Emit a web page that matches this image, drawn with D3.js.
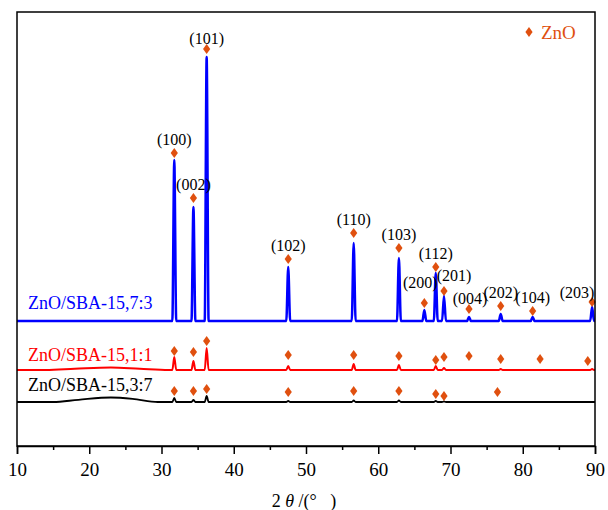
<!DOCTYPE html>
<html>
<head>
<meta charset="utf-8">
<style>
  body { margin: 0; background: #fff; }
  svg { display: block; font-family: "Liberation Serif", "Times New Roman", serif; }
</style>
</head>
<body>
<div id="chart"></div>
<script src="https://cdn.jsdelivr.net/npm/d3@7"></script>
<script>
    // ZnO reflections (2θ, degrees) and their indices
    const peakAngles = [31.77, 34.42, 36.25, 47.54, 56.60, 62.86, 66.38, 67.96, 69.10, 72.56, 76.95, 81.37, 89.60];
    const hklLabels = ["(100)", "(002)", "(101)", "(102)", "(110)", "(103)", "(200)", "(112)", "(201)", "(004)", "(202)", "(104)", "(203)"];

    // peak heights above each trace's baseline (a.u.), same order as peakAngles
    const heights73 = [1610, 1140, 2640, 540, 780, 630, 110, 480, 250, 40, 70, 40, 140];
    const heights11 = [130, 90, 220, 40, 60, 50, 0, 40, 20, 0, 10, 0, 10];
    const heights37 = [40, 20, 60, 10, 15, 15, 0, 10, 5, 0, 0, 0, 0];

    // broad amorphous silica hump (2θ, a.u.)
    const hump11 = [[14, 0], [18, 12], [23, 25], [27, 12], [31, 0]];
    const hump37 = [[15, 0], [18.5, 22], [23, 45], [26, 32], [29.5, 0]];

    // vertical offsets of the stacked traces
    const seriesNames = ["ZnO/SBA-15,7:3", "ZnO/SBA-15,1:1", "ZnO/SBA-15,3:7"];
    const seriesOffsets = [1250, 760, 440];

    // ZnO markers above each trace
    const marks73 = [1680, 1230, 2720, 620, 880, 730, 180, 540, 300, 120, 150, 100, 190];
    const markAngles11 = [31.77, 34.42, 36.25, 47.54, 56.60, 62.86, 67.96, 69.10, 72.56, 76.95, 82.40, 89.00];
    const marks11 = [190, 180, 290, 150, 150, 140, 100, 130, 140, 110, 110, 90];
    const markAngles37 = [31.77, 34.42, 36.25, 47.54, 56.60, 62.86, 67.96, 69.10, 76.50];
    const marks37 = [110, 110, 130, 100, 110, 110, 80, 60, 100];

    const xTicks = [10, 20, 30, 40, 50, 60, 70, 80, 90];
    const xMinorTicks = [15, 25, 35, 45, 55, 65, 75, 85];

    const width = 608, height = 510;
    const margin = { top: 12, right: 13, bottom: 64, left: 17 };
    const colors = ["#0000ff", "#ff0000", "#000000"];
    const strokeW = [2.5, 2, 1.8];
    const markColor = "#e0500f";
    const peakHalfWidth = 0.27;

    // label nudges (px) for the crowded hkl labels
    const labelNudge = {
        "(101)": [0, -11], "(004)": [1, -11], "(200)": [-4, -21],
        "(201)": [10, -16], "(203)": [-15, -10]
    };

    const svg = d3.select("#chart").append("svg")
        .attr("width", width)
        .attr("height", height);

    const x = d3.scaleLinear().domain([10, 90]).range([margin.left, width - margin.right]);
    const y = d3.scaleLinear().domain([0, 4340]).range([height - margin.bottom, margin.top]);

    function buildTrace(heights, hump) {
        let pts = [[10, 0], [90, 0]];
        if (hump) pts = pts.concat(hump);
        peakAngles.forEach((p, i) => {
            const h = heights[i];
            if (!h) return;
            pts.push([p - peakHalfWidth, 0], [p, h], [Math.min(90, p + peakHalfWidth), 0]);
        });
        return pts.sort((a, b) => a[0] - b[0]);
    }

    const traces = [
        buildTrace(heights73, null),
        buildTrace(heights11, hump11),
        buildTrace(heights37, hump37)
    ];

    svg.append("defs").append("clipPath").attr("id", "clip")
        .append("rect")
        .attr("x", margin.left).attr("y", margin.top)
        .attr("width", width - margin.left - margin.right)
        .attr("height", height - margin.top - margin.bottom);

    const line = d3.line().curve(d3.curveMonotoneX);

    svg.append("g").attr("clip-path", "url(#clip)")
        .selectAll("path")
        .data(traces)
        .join("path")
        .attr("fill", "none")
        .attr("stroke", (d, i) => colors[i])
        .attr("stroke-width", (d, i) => strokeW[i])
        .attr("stroke-linejoin", "round")
        .attr("d", (d, i) => line(d.map(p => [x(p[0]), y(p[1] + seriesOffsets[i])])));

    // diamond marker
    const diamond = {
        draw(ctx, size) {
            const hw = 3.6, hh = 5;
            ctx.moveTo(0, -hh);
            ctx.lineTo(hw, 0);
            ctx.lineTo(0, hh);
            ctx.lineTo(-hw, 0);
            ctx.closePath();
        }
    };
    const sym = d3.symbol().type(diamond)();

    const markers = [];
    peakAngles.forEach((p, i) => markers.push({ a: p, v: marks73[i] + seriesOffsets[0], hkl: hklLabels[i] }));
    markAngles11.forEach((p, i) => markers.push({ a: p, v: marks11[i] + seriesOffsets[1] }));
    markAngles37.forEach((p, i) => markers.push({ a: p, v: marks37[i] + seriesOffsets[2] }));

    svg.append("g")
        .selectAll("path")
        .data(markers)
        .join("path")
        .attr("d", sym)
        .attr("fill", markColor)
        .attr("transform", d => `translate(${x(d.a)},${y(d.v)})`);

    // hkl labels
    svg.append("g")
        .selectAll("text")
        .data(markers.filter(d => d.hkl))
        .join("text")
        .attr("x", d => x(d.a) + (labelNudge[d.hkl] ? labelNudge[d.hkl][0] : 0))
        .attr("y", d => y(d.v) + (labelNudge[d.hkl] ? labelNudge[d.hkl][1] : -14))
        .attr("dy", "0.35em")
        .attr("text-anchor", "middle")
        .attr("font-size", 16)
        .attr("fill", "#000")
        .text(d => d.hkl);

    // series names
    const nameY = [303, 355, 385];
    svg.append("g")
        .selectAll("text")
        .data(seriesNames)
        .join("text")
        .attr("x", 28)
        .attr("y", (d, i) => nameY[i])
        .attr("dy", "0.35em")
        .attr("font-size", 18)
        .attr("fill", (d, i) => colors[i])
        .text(d => d);

    // legend
    svg.append("path")
        .attr("d", sym)
        .attr("fill", markColor)
        .attr("transform", "translate(529,32)");
    svg.append("text")
        .attr("x", 541).attr("y", 32).attr("dy", "0.35em")
        .attr("font-size", 19)
        .attr("fill", markColor)
        .text("ZnO");

    // frame
    svg.append("rect")
        .attr("x", margin.left).attr("y", margin.top)
        .attr("width", width - margin.left - margin.right)
        .attr("height", height - margin.top - margin.bottom)
        .attr("fill", "none")
        .attr("stroke", "#000")
        .attr("stroke-width", 1.5);

    // x axis
    const axisY = height - margin.bottom;
    const xAxis = svg.append("g")
        .attr("transform", `translate(0,${axisY})`)
        .call(d3.axisBottom(x).tickValues(xTicks).tickSize(8).tickPadding(9).tickFormat(d3.format("d")));
    xAxis.select(".domain").attr("stroke-width", 1.5);
    xAxis.selectAll(".tick line").attr("stroke-width", 1.5);
    xAxis.selectAll(".tick text")
        .attr("font-family", "Liberation Serif, Times New Roman, serif")
        .attr("font-size", 19);

    const xMinor = svg.append("g")
        .attr("transform", `translate(0,${axisY})`)
        .call(d3.axisBottom(x).tickValues(xMinorTicks).tickSize(4).tickFormat(""));
    xMinor.select(".domain").remove();
    xMinor.selectAll(".tick line").attr("stroke-width", 1.5);

    // axis title
    const title = svg.append("text")
        .attr("x", (margin.left + width - margin.right) / 2 - 2)
        .attr("y", 507)
        .attr("text-anchor", "middle")
        .attr("font-size", 18)
        .attr("fill", "#000");
    title.append("tspan").text("2 ");
    title.append("tspan").attr("font-style", "italic").text("θ");
    title.append("tspan").text(" /(°\u2002 )");
</script>
</body>
</html>
